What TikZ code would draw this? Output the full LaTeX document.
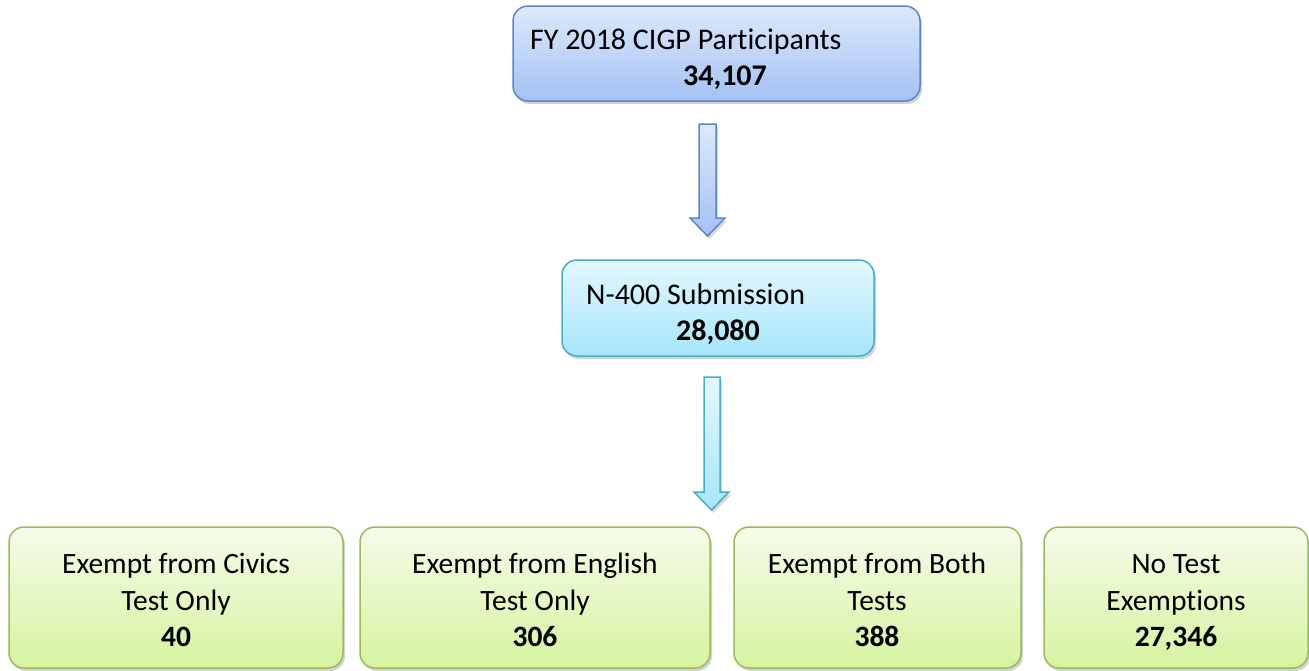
\documentclass[tikz,border=0pt]{standalone}
\usepackage{fontspec}
\setmainfont[Ligatures=NoCommon]{Carlito}
\usetikzlibrary{shadows,calc}
\definecolor{bluetop}{HTML}{DDE9FD}
\definecolor{bluebot}{HTML}{A3C1F3}
\definecolor{blueedge}{HTML}{5A87C9}
\definecolor{cyantop}{HTML}{E3F8FE}
\definecolor{cyanbot}{HTML}{A6E6FA}
\definecolor{cyanedge}{HTML}{4BACC6}
\definecolor{greentop}{HTML}{F6FBEA}
\definecolor{greenbot}{HTML}{D6F3A0}
\definecolor{greenedge}{HTML}{9BBB59}
\tikzset{
  box/.style={rounded corners=15pt, line width=1.5pt, drop shadow={shadow xshift=2pt, shadow yshift=-3pt, opacity=0.35}},
  bluebox/.style={box, draw=blueedge, top color=bluetop, bottom color=bluebot},
  cyanbox/.style={box, draw=cyanedge, top color=cyantop, bottom color=cyanbot},
  greenbox/.style={box, draw=greenedge, top color=greentop, bottom color=greenbot},
  txt/.style={font=\fontsize{30}{36.5}\selectfont, inner sep=0pt},
  ctxt/.style={font=\fontsize{29.5}{36.5}\selectfont, inner sep=0pt, align=center},
  blockarrow/.style={line width=1.5pt, line join=miter, drop shadow={shadow xshift=2pt, shadow yshift=-3pt, opacity=0.3}}
}
\begin{document}
\begin{tikzpicture}[x=1pt,y=-1pt]
\useasboundingbox (0,0) rectangle (1309,670);
% boxes
\path[bluebox] (513,6) rectangle (920,101);
\node[txt, anchor=base west] (t1) at (530,49) {FY 2018 CIGP Participants};
\node[txt, anchor=base] (t2) at (725,85) {\bfseries 34,107};

\path[cyanbox] (562,260) rectangle (874,356);
\node[txt, anchor=base west] (m1) at (586,304) {N-400 Submission};
\node[txt, anchor=base] (m2) at (718,340) {\bfseries 28,080};

\path[greenbox] (9,527) rectangle (343,668);
\node[ctxt] (b1) at (176,603) {\strut Exempt from Civics\\\strut Test Only\\\strut\bfseries 40};
\path[greenbox] (360,527) rectangle (710,668);
\node[ctxt] (b2) at (535,603) {\strut Exempt from English\\\strut Test Only\\\strut\bfseries 306};
\path[greenbox] (734,527) rectangle (1021,668);
\node[ctxt] (b3) at (877,603) {\strut Exempt from Both\\\strut Tests\\\strut\bfseries 388};
\path[greenbox] (1044,527) rectangle (1308,668);
\node[ctxt] (b4) at (1176,603) {\strut No Test\\\strut Exemptions\\\strut\bfseries 27,346};

% block arrows
\path[blockarrow, draw=blueedge, top color=bluetop, bottom color=bluebot]
  (699,124) -- (716,124) -- (716,218) -- (725,218) -- (707.5,236) -- (690,218) -- (699,218) -- cycle;
\path[blockarrow, draw=cyanedge, top color=cyantop, bottom color=cyanbot]
  (704,377) -- (720,377) -- (720,492) -- (729,492) -- (711.5,510) -- (694,492) -- (704,492) -- cycle;
\end{tikzpicture}
\end{document}
